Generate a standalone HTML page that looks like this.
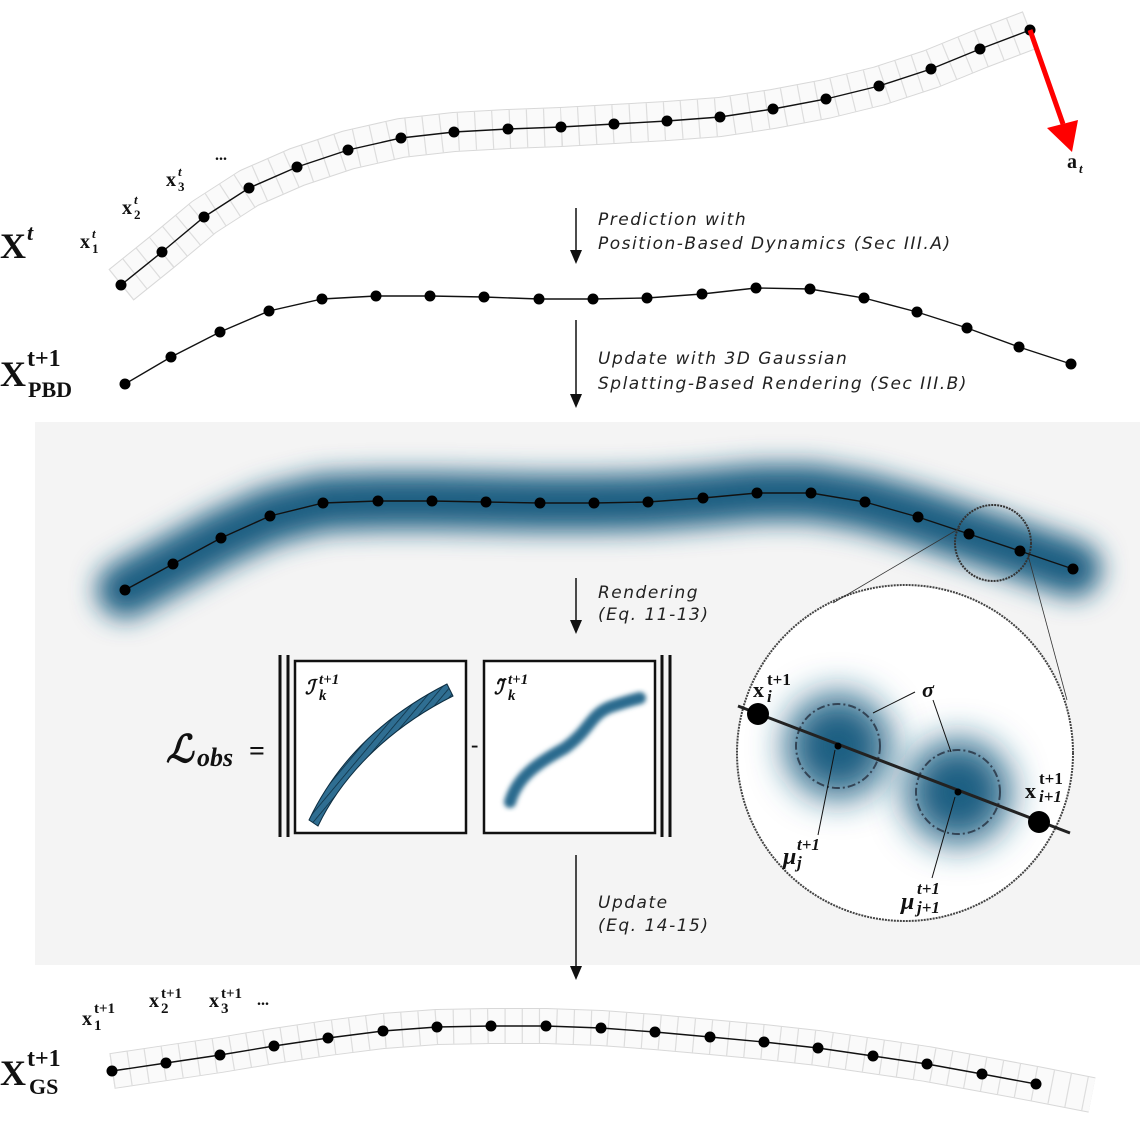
<!DOCTYPE html>
<html><head><meta charset="utf-8"><style>
body{margin:0;background:#fff}
svg{display:block}
.it{font-family:"DejaVu Sans",sans-serif;font-style:italic;font-size:17px;letter-spacing:1.5px;fill:#222}
.m{font-family:"Liberation Serif",serif;font-weight:bold;fill:#111}
.i{font-style:italic}
</style></head><body>
<svg id="s" width="1140" height="1124" viewBox="0 0 1140 1124" xmlns="http://www.w3.org/2000/svg">
<defs>
<filter id="blur" x="-20%" y="-80%" width="140%" height="260%"><feGaussianBlur stdDeviation="13"/></filter>
<filter id="blur2" x="-80%" y="-80%" width="260%" height="260%"><feGaussianBlur stdDeviation="18"/></filter>
<filter id="blur3"><feGaussianBlur stdDeviation="2.5"/></filter>
<pattern id="hatch" width="6" height="6" patternUnits="userSpaceOnUse" patternTransform="rotate(40)"><rect width="6" height="6" fill="#2f6e92"/><line x1="0" y1="0" x2="0" y2="6" stroke="#0d2d40" stroke-width="1.5"/></pattern>
</defs>
<rect x="35" y="422" width="1105" height="543" fill="#f4f4f4"/>
<g id="g"></g>
<g fill="#111">
<line x1="576" y1="208" x2="576" y2="252" stroke="#111" stroke-width="1.5"/><path d="M570,250 L582,250 L576,264 Z"/>
<line x1="576" y1="320" x2="576" y2="396" stroke="#111" stroke-width="1.5"/><path d="M570,394 L582,394 L576,408 Z"/>
<line x1="576" y1="578" x2="576" y2="622" stroke="#111" stroke-width="1.5"/><path d="M570,620 L582,620 L576,634 Z"/>
<line x1="576" y1="855" x2="576" y2="968" stroke="#111" stroke-width="1.5"/><path d="M570,966 L582,966 L576,980 Z"/>
</g>
<text class="it" x="598" y="225">Prediction with</text>
<text class="it" x="598" y="249">Position-Based Dynamics (Sec III.A)</text>
<text class="it" x="598" y="364">Update with 3D Gaussian</text>
<text class="it" x="598" y="389">Splatting-Based Rendering (Sec III.B)</text>
<text class="it" x="598" y="598">Rendering</text>
<text class="it" x="598" y="620">(Eq. 11-13)</text>
<text class="it" x="598" y="908">Update</text>
<text class="it" x="598" y="931">(Eq. 14-15)</text>
<line x1="1030" y1="30" x2="1063" y2="124" stroke="#f00" stroke-width="5"/>
<path d="M1047,128 L1078,120 L1072,152 Z" fill="#f00"/>
<g class="m"><text x="1067" y="168" font-size="20">a</text><text x="1079" y="173" font-size="13" class="i">t</text></g>
<g class="m"><text x="0" y="258" font-size="36">X</text><text x="27" y="240" font-size="22" class="i">t</text></g>
<g class="m"><text x="0" y="386" font-size="36">X</text><text x="27" y="366" font-size="24">t+1</text><text x="28" y="397" font-size="22">PBD</text></g>
<g class="m"><text x="0" y="1085" font-size="36">X</text><text x="27" y="1066" font-size="24">t+1</text><text x="29" y="1094" font-size="22">GS</text></g>
<g class="m">
<text x="80" y="248" font-size="20">x</text><text x="92" y="238" font-size="13" class="i">t</text><text x="92" y="253" font-size="13">1</text>
<text x="122" y="214" font-size="20">x</text><text x="134" y="204" font-size="13" class="i">t</text><text x="134" y="219" font-size="13">2</text>
<text x="166" y="186" font-size="20">x</text><text x="178" y="176" font-size="13" class="i">t</text><text x="178" y="191" font-size="13">3</text>
<text x="215" y="160" font-size="16">...</text>
</g>
<g class="m">
<text x="82" y="1025" font-size="20">x</text><text x="94" y="1013" font-size="15">t+1</text><text x="94" y="1030" font-size="15">1</text>
<text x="149" y="1007" font-size="20">x</text><text x="161" y="998" font-size="15">t+1</text><text x="161" y="1013" font-size="15">2</text>
<text x="209" y="1007" font-size="20">x</text><text x="221" y="998" font-size="15">t+1</text><text x="221" y="1013" font-size="15">3</text>
<text x="257" y="1005" font-size="16">...</text>
</g>
<g font-family="Liberation Serif,serif" font-style="italic" font-weight="bold" fill="#111">
<text x="166" y="762" font-size="38">ℒ</text><text x="197" y="766" font-size="26">obs</text><text x="249" y="760" font-size="28" font-style="normal">=</text></g>
<g stroke="#111" stroke-width="3">
<line x1="280" y1="655" x2="280" y2="837"/><line x1="288" y1="655" x2="288" y2="837"/>
<line x1="662" y1="655" x2="662" y2="837"/><line x1="670" y1="655" x2="670" y2="837"/>
</g>
<rect x="295" y="661" width="171" height="172" fill="#fff" stroke="#111" stroke-width="2.5"/>
<path d="M318,826 C345,770 395,725 453,696 L447,684 C390,713 340,755 309,820 Z" fill="url(#hatch)" stroke="#0d2d40"/>
<g class="m i"><text x="305" y="694" font-size="20">ℐ</text><text x="319" y="684" font-size="15">t+1</text><text x="319" y="700" font-size="15">k</text></g>
<text x="471" y="752" class="m" font-size="22">-</text>
<rect x="484" y="661" width="171" height="172" fill="#fff" stroke="#111" stroke-width="2.5"/>
<path d="M510,802 C518,775 540,762 565,748 C590,730 590,715 610,707 C625,702 632,700 640,698" fill="none" stroke="#2a6a8e" stroke-width="12" stroke-linecap="round" filter="url(#blur3)"/>
<g class="m i"><text x="494" y="694" font-size="20">ℐ̃</text><text x="508" y="684" font-size="15">t+1</text><text x="508" y="700" font-size="15">k</text></g>
<g>
<circle cx="905" cy="753" r="168" fill="#fff" stroke="#444" stroke-width="2" stroke-dasharray="2,1"/>
<line x1="833" y1="603" x2="960" y2="528" stroke="#333" stroke-width="0.8"/>
<line x1="1067" y1="700" x2="1028" y2="555" stroke="#333" stroke-width="0.8"/>
<circle cx="838" cy="746" r="52" fill="#1c5f82" filter="url(#blur2)"/>
<circle cx="958" cy="792" r="52" fill="#1c5f82" filter="url(#blur2)"/>
<circle cx="838" cy="746" r="42" fill="none" stroke="#345" stroke-width="2" stroke-dasharray="8,3,2,3"/>
<circle cx="958" cy="792" r="42" fill="none" stroke="#345" stroke-width="2" stroke-dasharray="8,3,2,3"/>
<line x1="738" y1="706" x2="1070" y2="833" stroke="#222" stroke-width="3"/>
<circle cx="758" cy="714" r="11" fill="#000"/><circle cx="1039" cy="822" r="11" fill="#000"/>
<circle cx="838" cy="746" r="3.5" fill="#000"/><circle cx="958" cy="792" r="3.5" fill="#000"/>
<line x1="873" y1="713" x2="915" y2="692" stroke="#111"/><line x1="951" y1="752" x2="933" y2="700" stroke="#111"/>
<line x1="835" y1="750" x2="818" y2="835" stroke="#111"/><line x1="955" y1="797" x2="932" y2="878" stroke="#111"/>
<text class="m i" x="922" y="697" font-size="22">σ</text>
<g class="m"><text x="753" y="697" font-size="22">x</text><text x="767" y="685" font-size="17">t+1</text><text x="767" y="702" font-size="17" class="i">i</text></g>
<g class="m"><text x="1025" y="798" font-size="22">x</text><text x="1039" y="784" font-size="17">t+1</text><text x="1039" y="802" font-size="17" class="i">i+1</text></g>
<g class="m i"><text x="783" y="864" font-size="24">μ</text><text x="797" y="850" font-size="17">t+1</text><text x="797" y="868" font-size="17">j</text></g>
<g class="m i"><text x="901" y="909" font-size="24">μ</text><text x="917" y="894" font-size="17">t+1</text><text x="917" y="913" font-size="17">j+1</text></g>
</g>
<circle cx="993" cy="543" r="38" fill="none" stroke="#333" stroke-width="2" stroke-dasharray="2,1"/>
</svg>
<script>
const chainXt=[[121,285],[162,252],[204,217],[249,188],[297,167],[348,150],[401,138],[454,132],[508,129],[561,127],[614,124],[667,121],[720,117],[773,109],[826,99],[879,86],[931,69],[980,49],[1030,30]];
const chainPBD=[[125,384],[171,357],[220,332],[269,311],[322,299],[376,296],[430,296],[484,297],[539,299],[593,299],[647,298],[702,294],[756,288],[810,289],[864,298],[917,312],[967,328],[1019,347],[1071,364]];
const chainGS=[[125,590],[173,564],[221,538],[270,516],[323,503],[378,501],[432,501],[486,502],[540,503],[594,503],[648,502],[703,498],[757,493],[811,493],[865,502],[918,517],[969,534],[1020,551],[1073,569]];
const chainFinal=[[112,1071],[166,1063],[220,1055],[274,1046],[328,1038],[383,1031],[437,1027],[491,1026],[546,1026],[601,1028],[655,1032],[710,1037],[764,1042],[818,1048],[873,1056],[927,1064],[982,1074],[1036,1084]];
const NS='http://www.w3.org/2000/svg',g=document.getElementById('g');
function mk(t,a){const e=document.createElementNS(NS,t);for(const k in a)e.setAttribute(k,a[k]);g.appendChild(e);return e;}
function pts(c){return c.map(p=>p.join(',')).join(' ');}
function rope(c,w){
 const r=mk('polyline',{points:pts(c),fill:'none',stroke:'#d8d8d8','stroke-width':w+2,'stroke-linejoin':'round'});
 
 
 const r2=mk('polyline',{points:pts(c),fill:'none',stroke:'#fafafa','stroke-width':w,'stroke-linejoin':'round'});
 
 
 const r3=mk('polyline',{points:pts(c),fill:'none',stroke:'#ddd','stroke-width':w,'stroke-dasharray':'1.2,16'});
 
 
}
function chain(c,name,r){
 const l=mk('polyline',{points:pts(c),fill:'none',stroke:'#111','stroke-width':1.4});
 
 
 c.forEach(p=>{const d=mk('circle',{cx:p[0],cy:p[1],r:r,fill:'#000'});
 
 });
}
rope(chainXt,38);
rope(chainFinal.concat([[1092,1095]]),34);
const b=mk('polyline',{points:pts(chainGS),fill:'none',stroke:'#1c5f82','stroke-width':56,'stroke-linecap':'round','stroke-linejoin':'round',filter:'url(#blur)'});


chain(chainXt,'chain-xt',5.5);
chain(chainPBD,'chain-pbd',5.5);
chain(chainGS,'chain-gs',5.5);
chain(chainFinal,'chain-final',5.5);
</script>
</body></html>
